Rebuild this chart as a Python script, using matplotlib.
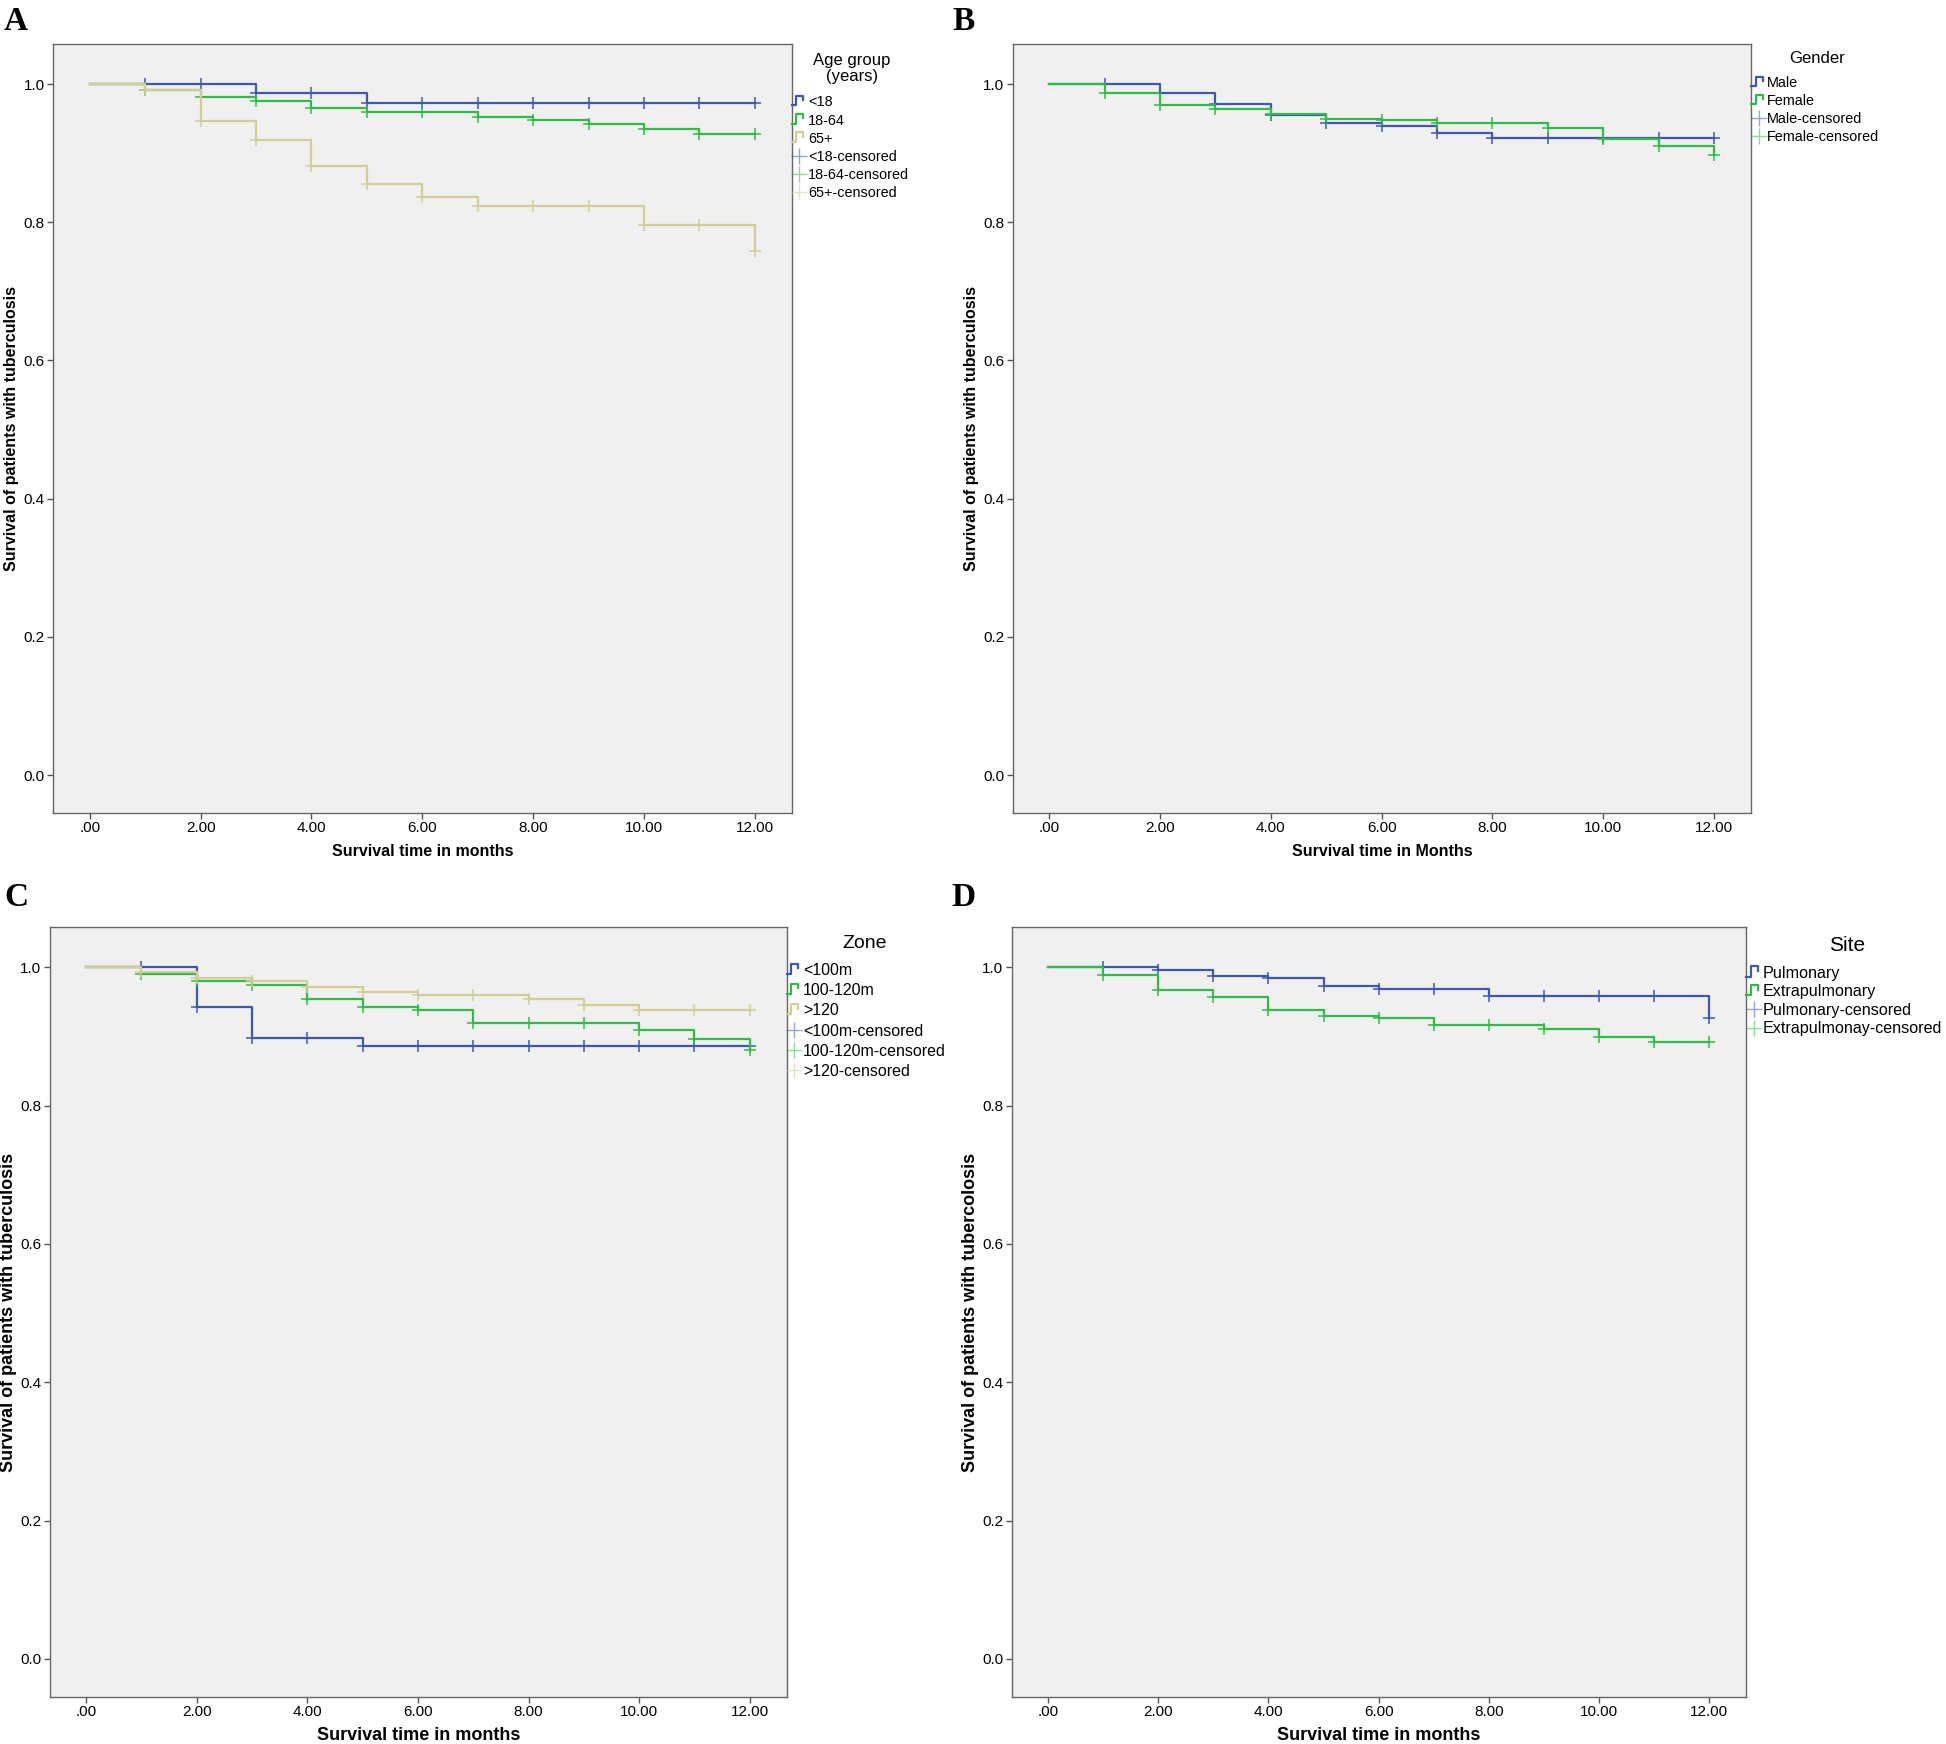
import matplotlib
matplotlib.use('Agg')
import matplotlib.pyplot as plt
from matplotlib import font_manager
from matplotlib.legend_handler import HandlerBase
from matplotlib.lines import Line2D

# survival at the start of each month interval (step changes at whole months)
months = list(range(13))
xtick_vals = [0, 2, 4, 6, 8, 10, 12]
xtick_labels = ['.00', '2.00', '4.00', '6.00', '8.00', '10.00', '12.00']
ytick_vals = [0.0, 0.2, 0.4, 0.6, 0.8, 1.0]
ytick_labels = ['0.0', '0.2', '0.4', '0.6', '0.8', '1.0']

# A - age group
age_lt18 = [1.0, 1.0, 1.0, 0.9865, 0.9865, 0.9725, 0.9725, 0.9725, 0.9725, 0.9725, 0.9725, 0.9725, 0.9725]
age_18_64 = [1.0, 0.992, 0.981, 0.975, 0.965, 0.9595, 0.9595, 0.952, 0.948, 0.942, 0.9355, 0.927, 0.927]
age_65 = [1.0, 0.992, 0.946, 0.919, 0.882, 0.855, 0.836, 0.823, 0.823, 0.823, 0.796, 0.796, 0.758]
age_labels = ['<18', '18-64', '65+']

# B - gender
male = [1.0, 1.0, 0.9875, 0.971, 0.955, 0.9435, 0.939, 0.9286, 0.922, 0.922, 0.922, 0.922, 0.922]
female = [1.0, 0.9875, 0.970, 0.9645, 0.957, 0.950, 0.9474, 0.943, 0.943, 0.936, 0.920, 0.910, 0.898]
gender_labels = ['Male', 'Female']

# C - zone
zone_lt100 = [1.0, 1.0, 0.943, 0.898, 0.898, 0.886, 0.886, 0.886, 0.886, 0.886, 0.886, 0.886, 0.886]
zone_100_120 = [1.0, 0.990, 0.981, 0.975, 0.955, 0.942, 0.9386, 0.920, 0.920, 0.920, 0.909, 0.897, 0.880]
zone_gt120 = [1.0, 0.994, 0.984, 0.980, 0.971, 0.9645, 0.960, 0.960, 0.954, 0.946, 0.938, 0.938, 0.938]
zone_labels = ['<100m', '100-120m', '>120']

# D - site
pulmonary = [1.0, 1.0, 0.996, 0.988, 0.9846, 0.9725, 0.9687, 0.9687, 0.959, 0.959, 0.959, 0.959, 0.927]
extrapulmonary = [1.0, 0.989, 0.968, 0.957, 0.938, 0.929, 0.927, 0.916, 0.916, 0.911, 0.899, 0.892, 0.892]
site_labels = ['Pulmonary', 'Extrapulmonary']
site_cens_labels = ['Pulmonary-censored', 'Extrapulmonay-censored']

BLUE = '#3d58b0'
GREEN = '#2fbb45'
TAN = '#d3cc94'
BG = '#f0f0f0'

names = {f.name for f in font_manager.fontManager.ttflist}
NARROW = 'Liberation Sans Narrow' if 'Liberation Sans Narrow' in names else 'Liberation Sans'
plt.rcParams['font.family'] = ['Liberation Sans', 'DejaVu Sans']


class StepHandler(HandlerBase):
    def create_artists(self, legend, orig, xd, yd, w, h, fontsize, trans):
        x0, y0 = -xd, -yd
        xs = [x0, x0 + 0.3 * w, x0 + 0.3 * w, x0 + 0.75 * w, x0 + 0.75 * w]
        ys = [y0 + 0.1 * h, y0 + 0.1 * h, y0 + 1.0 * h, y0 + 1.0 * h, y0 + 0.6 * h]
        return [Line2D(xs, ys, color=orig.get_color(), lw=1.6, transform=trans)]


def draw_panel(rect, letter, letter_xy, series, colors, labels, cens_labels, title,
               title_xy, title_size, legend_top, leg_size, leg_spacing,
               xlabel, ylabel, label_size):
    ax = fig.add_axes(rect)
    ax.set_facecolor(BG)
    for s, c in zip(series, colors):
        ax.step(months, s, where='post', color=c, lw=1.6)
        ax.plot(months[1:], s[1:], ls='none', marker='+', color=c, ms=8, mew=1.1)
    ax.set_xlim(-0.66, 12.67)
    ax.set_ylim(-0.055, 1.058)
    ax.set_xticks(xtick_vals)
    ax.set_xticklabels(xtick_labels)
    ax.set_yticks(ytick_vals)
    ax.set_yticklabels(ytick_labels)
    ax.tick_params(direction='out', length=4, width=1, color='#555555', pad=2,
                   labelsize=11)
    for lab in ax.get_xticklabels() + ax.get_yticklabels():
        lab.set_family([NARROW, 'DejaVu Sans'])
    for sp in ax.spines.values():
        sp.set_color('#666666')
        sp.set_linewidth(1.0)
    ax.set_xlabel(xlabel, fontsize=label_size, fontweight='bold', va='center')
    ax.set_ylabel(ylabel, fontsize=label_size, fontweight='bold', va='center')
    ax.xaxis.set_label_coords(0.5, -0.05)
    ax.yaxis.set_label_coords(-0.056, 0.5)

    handles, handler_map = [], {}
    for c in colors:
        h = Line2D([], [], color=c)
        handles.append(h)
        handler_map[h] = StepHandler()
    for c in colors:
        handles.append(Line2D([], [], ls='none', marker='+', ms=12, mew=1.0,
                              color=c, alpha=0.55))
    ax.legend(handles, labels + cens_labels, loc='upper left',
              bbox_to_anchor=(1.0, legend_top), frameon=False, fontsize=leg_size,
              handlelength=11.0 / leg_size, handletextpad=0.05, borderaxespad=0,
              borderpad=0, labelspacing=leg_spacing, handler_map=handler_map)
    ax.text(title_xy[0], title_xy[1], title, transform=ax.transAxes,
            fontsize=title_size, ha='center', va='center', multialignment='center',
            linespacing=1.1)
    fig.text(letter_xy[0] / 1946, 1 - letter_xy[1] / 1744, letter, fontsize=24,
             fontweight='bold', family='Liberation Serif', ha='center', va='center')
    return ax


fig = plt.figure(figsize=(19.46, 17.44), dpi=100)

draw_panel([0.0274, 0.5338, 0.3795, 0.4410], 'A', (16, 21),
           [age_lt18, age_18_64, age_65], [BLUE, GREEN, TAN], age_labels,
           [l + '-censored' for l in age_labels], 'Age group\n(years)',
           (1.081, 0.968), 12, 0.933, 10.4, 0.28,
           'Survival time in months', 'Survival of patients with tuberculosis', 11.5)
draw_panel([0.5204, 0.5338, 0.3795, 0.4410], 'B', (964, 21),
           [male, female], [BLUE, GREEN], gender_labels,
           [l + '-censored' for l in gender_labels], 'Gender',
           (1.089, 0.981), 12, 0.958, 10.4, 0.28,
           'Survival time in Months', 'Survival of patients with tuberculosis', 11.5)
draw_panel([0.0255, 0.0270, 0.3788, 0.4413], 'C', (16, 897),
           [zone_lt100, zone_100_120, zone_gt120], [BLUE, GREEN, TAN], zone_labels,
           [l + '-censored' for l in zone_labels], 'Zone',
           (1.106, 0.979), 14, 0.954, 11.5, 0.33,
           'Survival time in months', 'Survival of patients with tuberculosis', 13)
draw_panel([0.5198, 0.0270, 0.3776, 0.4413], 'D', (964, 897),
           [pulmonary, extrapulmonary], [BLUE, GREEN], site_labels,
           site_cens_labels, 'Site', (1.137, 0.976), 15, 0.950, 11.6, 0.22,
           'Survival time in months', 'Survival of patients with tubercolosis', 13)

fig.savefig('out.png', dpi=100, facecolor='white')
